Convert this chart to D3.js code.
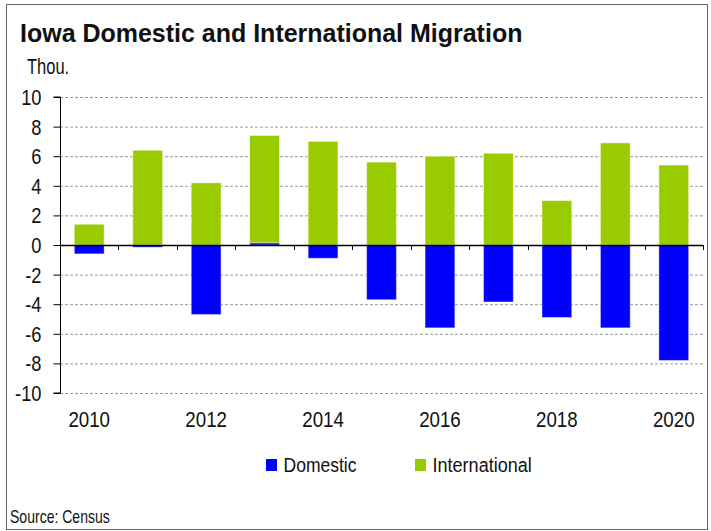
<!DOCTYPE html>
<html>
<head>
<meta charset="utf-8">
<script src="https://cdn.jsdelivr.net/npm/d3@7"></script>
<style>
  html, body { margin: 0; padding: 0; background: #fff; }
  svg text { font-family: "Liberation Sans", Arial, sans-serif; fill: #111; }
</style>
</head>
<body>
<svg id="chart" width="711" height="531"></svg>
<script>
// Net migration, thousands of people
const years = ["2010","2011","2012","2013","2014","2015","2016","2017","2018","2019","2020"];
const domestic = [-0.6, -0.15, -4.7, 0.15, -0.9, -3.7, -5.6, -3.85, -4.9, -5.6, -7.8];
const international = [1.4, 6.4, 4.2, 7.25, 7.0, 5.6, 6.0, 6.2, 3.0, 6.9, 5.4];
const seriesNames = ["Domestic", "International"];
const seriesColors = ["#0000ff", "#99cc00"];
const yTicks = [-10, -8, -6, -4, -2, 0, 2, 4, 6, 8, 10];
const xLabelYears = ["2010","2012","2014","2016","2018","2020"];

const svg = d3.select("#chart");

// condensed text: a regular face squeezed horizontally
function label(parent, x, y, s, size, sx, anchor = "start", weight = "normal") {
  return parent.append("text")
    .attr("transform", `translate(${x},${y}) scale(${sx},1)`)
    .attr("text-anchor", anchor)
    .style("font-size", size + "px")
    .style("font-weight", weight)
    .text(s);
}

// outer frame
svg.append("rect")
  .attr("x", 6.5).attr("y", 4.5).attr("width", 701).attr("height", 525)
  .attr("fill", "none").attr("stroke", "#666").attr("stroke-width", 1);

label(svg, 20, 41.5, "Iowa Domestic and International Migration", 25.5, 0.98, "start", "bold");
label(svg, 27, 74, "Thou.", 22, 0.75);

const x = d3.scaleBand().domain(years).range([60, 703]).paddingInner(0.49).paddingOuter(0.245);
const y = d3.scaleLinear().domain([-10, 10]).range([393, 97]);

// dashed grid
svg.append("g").selectAll("line").data(yTicks.filter(t => t !== 0)).join("line")
  .attr("x1", 60).attr("x2", 703)
  .attr("y1", d => y(d) + 0.5).attr("y2", d => y(d) + 0.5)
  .attr("stroke", "#9a9a9a").attr("stroke-width", 1).attr("stroke-dasharray", "3,2");

// stacked bars, negatives below zero
const rows = years.map((yr, i) => ({ year: yr, Domestic: domestic[i], International: international[i] }));
const stacked = d3.stack().keys(seriesNames).offset(d3.stackOffsetDiverging)(rows);

svg.append("g").selectAll("g").data(stacked).join("g")
  .attr("fill", (d, i) => seriesColors[i])
  .selectAll("rect").data(d => d).join("rect")
  .attr("x", d => x(d.data.year))
  .attr("width", x.bandwidth())
  .attr("y", d => y(Math.max(d[0], d[1])))
  .attr("height", d => Math.abs(y(d[0]) - y(d[1])))
  .attr("stroke", "rgba(255,255,255,0.45)").attr("stroke-width", 1);

// y axis
const yAxis = d3.axisLeft(y).tickValues(yTicks).tickSize(7)
  .tickFormat(d => String(d).replace("\u2212", "-"));
const yg = svg.append("g").attr("transform", "translate(60.5,0)").call(yAxis);
yg.select(".domain").attr("stroke", "#000").attr("d", `M-7,${y(10)}H0V${y(-10)}H-7`);
yg.selectAll(".tick line").attr("stroke", "#000");
yg.selectAll(".tick").attr("transform", d => `translate(0,${y(d) + 0.5})`);
yg.selectAll(".tick text")
  .attr("x", null).attr("dy", null)
  .attr("transform", "translate(-19,7.5) scale(0.85,1)")
  .attr("fill", "#111")
  .style("font-size", "21.5px")
  .style("font-family", '"Liberation Sans", Arial, sans-serif');

// zero baseline with category boundary ticks
const step = x.step();
const bounds = d3.range(years.length + 1).map(i => 60 + i * step);
const zg = svg.append("g");
zg.append("line").attr("x1", 60).attr("x2", 703)
  .attr("y1", y(0) + 0.5).attr("y2", y(0) + 0.5).attr("stroke", "#000").attr("stroke-width", 1.5);
zg.selectAll(".bt").data(bounds.slice(1)).join("line")
  .attr("x1", d => Math.round(d) + 0.5).attr("x2", d => Math.round(d) + 0.5)
  .attr("y1", y(0)).attr("y2", y(0) + 5).attr("stroke", "#000").attr("stroke-width", 1);

// year labels
const xg = svg.append("g");
xLabelYears.forEach(d => label(xg, x(d) + x.bandwidth() / 2, 427, d, 21.5, 0.87, "middle"));

// legend
const legendX = [266, 415];
const legendSx = [0.835, 0.86];
const lg = svg.append("g");
seriesNames.forEach((name, i) => {
  lg.append("rect").attr("x", legendX[i]).attr("y", 459).attr("width", 11).attr("height", 12)
    .attr("fill", seriesColors[i]);
  label(lg, legendX[i] + 17.5, 472, name, 21, legendSx[i]);
});

label(svg, 10, 523, "Source: Census", 18, 0.78);
</script>
</body>
</html>
